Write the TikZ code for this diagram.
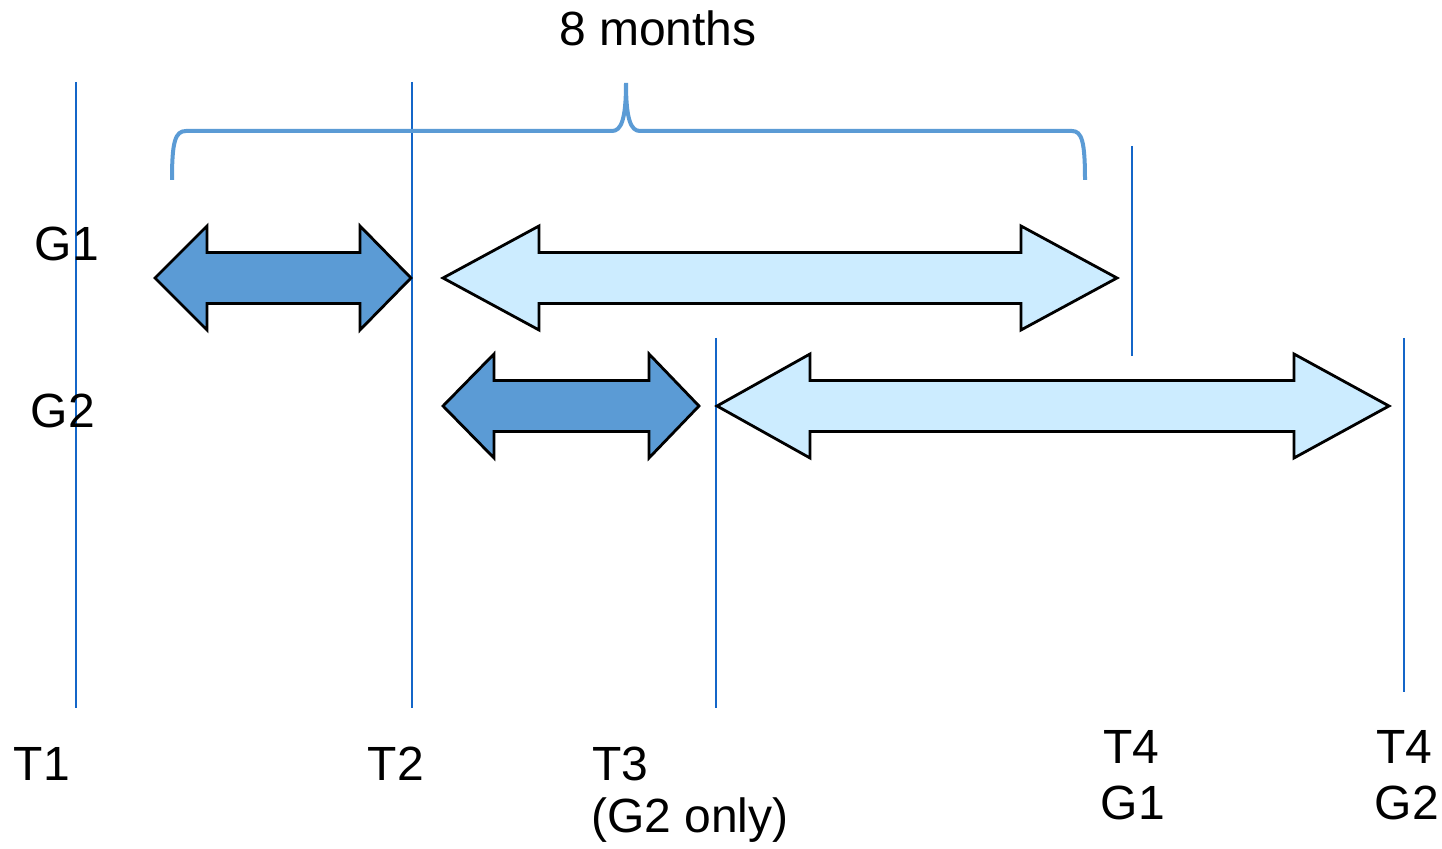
\documentclass[tikz,border=0pt]{standalone}
\usepackage{fontspec}
\setmainfont{Liberation Sans}
\definecolor{vline}{RGB}{20,102,200}
\definecolor{brace}{RGB}{91,155,213}
\definecolor{darkfill}{RGB}{91,155,213}
\definecolor{lightfill}{RGB}{204,236,255}
\tikzset{
  timeline/.style={draw=vline, line width=1.2pt},
  bracestyle/.style={draw=brace, line width=2pt, line cap=butt},
  darrow/.style={draw=black, fill=darkfill, line width=1.4pt, line join=miter},
  larrow/.style={draw=black, fill=lightfill, line width=1.4pt, line join=miter},
  lbl/.style={font=\fontsize{24}{29}\selectfont, inner sep=0pt, align=center},
}
% double arrow: #1 left tip x, #2 left base x, #3 right base x, #4 right tip x, #5 center y
\newcommand{\dblarrow}[6]{%
  \path[#6] (#1,#5) -- (#2,#5-52) -- (#2,#5-25.5) -- (#3,#5-25.5) -- (#3,#5-52) -- (#4,#5)
    -- (#3,#5+52) -- (#3,#5+25.5) -- (#2,#5+25.5) -- (#2,#5+52) -- cycle;}
\begin{document}
\begin{tikzpicture}[x=0.5pt,y=-0.5pt]
\useasboundingbox (0,0) rectangle (1442,849);
% time lines
\draw[timeline] (76,82) -- (76,708);
\draw[timeline] (412,82) -- (412,708);
\draw[timeline] (716,338) -- (716,708);
\draw[timeline] (1132,146) -- (1132,356);
\draw[timeline] (1404,338) -- (1404,692);
% brace
\draw[bracestyle] (172,180) .. controls (172,142) and (175,131) .. (186,131) -- (612,131)
  .. controls (621,131) and (626,120) .. (626,83)
  .. controls (626,120) and (631,131) .. (640,131) -- (1072,131)
  .. controls (1082,131) and (1085,142) .. (1085,180);
% arrows
\dblarrow{155}{207}{360}{411}{278}{darrow}
\dblarrow{443}{539}{1021}{1117}{278}{larrow}
\dblarrow{443}{494}{649}{699}{406}{darrow}
\dblarrow{717}{810}{1294}{1389}{406}{larrow}
% labels
\node[lbl] (months) at (658,28) {8 months};
\node[lbl] (g1) at (67,244) {G1};
\node[lbl] (g2) at (63,411) {G2};
\node[lbl] (t1) at (42,764) {T1};
\node[lbl] (t2) at (396,764) {T2};
\node[lbl, anchor=west] (t3) at (592,764) {T3};
\node[lbl] (t3b) at (690,820) {(G2 only)};
\node[lbl] (t4a) at (1131,747) {T4};
\node[lbl] (g1b) at (1133,803) {G1};
\node[lbl] (t4b) at (1404,747) {T4};
\node[lbl] (g2b) at (1407,803) {G2};
\end{tikzpicture}
\end{document}
